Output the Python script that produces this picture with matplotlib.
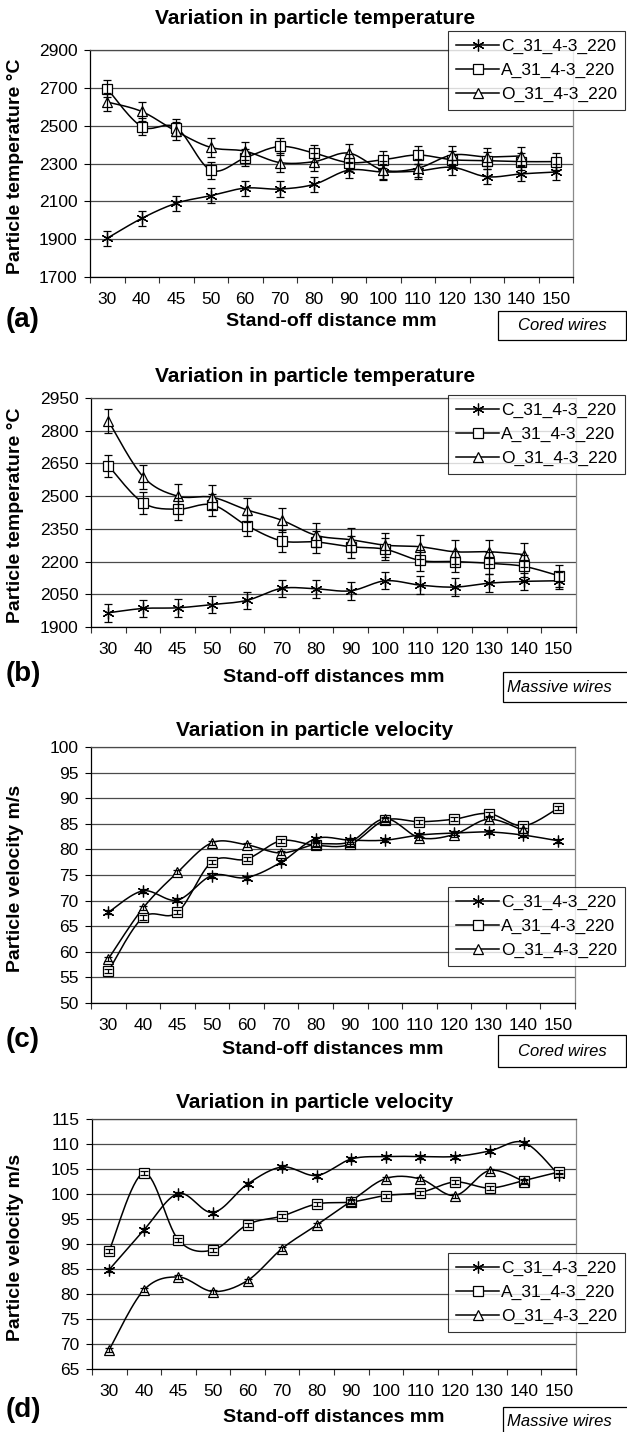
import numpy as np
import matplotlib
matplotlib.use("Agg")
import matplotlib.pyplot as plt
from matplotlib.patches import Rectangle
from matplotlib.lines import Line2D

plt.rcParams['font.family'] = ['Liberation Sans', 'DejaVu Sans']

# ---------------- data ----------------
categories = ['30', '40', '45', '50', '60', '70', '80', '90', '100', '110', '120', '130', '140', '150']
series_names = ['C_31_4-3_220', 'A_31_4-3_220', 'O_31_4-3_220']

# (a) particle temperature, cored wires
a_C = [1905, 2010, 2090, 2130, 2170, 2165, 2190, 2265, 2255, 2260, 2280, 2230, 2245, 2255]
a_A = [2695, 2495, 2490, 2265, 2330, 2390, 2355, 2305, 2320, 2345, 2320, 2315, 2310, 2310]
a_O = [2625, 2575, 2470, 2385, 2365, 2305, 2310, 2355, 2265, 2275, 2345, 2335, 2340]
a_err = [40, 45, 48]

# (b) particle temperature, massive wires
b_C = [1965, 1985, 1988, 2003, 2022, 2077, 2075, 2066, 2112, 2092, 2083, 2101, 2109, 2112]
b_A = [2640, 2470, 2440, 2460, 2365, 2295, 2290, 2268, 2256, 2205, 2200, 2192, 2178, 2135]
b_O = [2845, 2590, 2500, 2495, 2437, 2390, 2320, 2300, 2275, 2268, 2245, 2245, 2232]
b_err = [40, 50, 55]

# (c) particle velocity, cored wires
c_C = [67.7, 71.9, 70.1, 74.9, 74.5, 77.5, 82.1, 81.8, 81.8, 82.8, 83.2, 83.4, 82.8, 81.7]
c_A = [56.2, 66.7, 67.7, 77.6, 78.1, 81.7, 80.8, 81.0, 85.7, 85.4, 85.9, 87.0, 84.6, 88.0]
c_O = [58.6, 68.5, 75.5, 81.3, 80.9, 79.3, 81.0, 81.5, 86.0, 82.3, 82.9, 85.9, 83.7]
c_err = [0.4, 0.4, 0.4]

# (d) particle velocity, massive wires
d_C = [84.9, 92.8, 100.1, 96.3, 102.0, 105.4, 103.7, 107.0, 107.5, 107.5, 107.5, 108.6, 110.3, 103.8]
d_A = [88.7, 104.2, 90.8, 88.8, 93.9, 95.6, 98.0, 98.4, 99.7, 100.3, 102.4, 101.2, 102.7, 104.4]
d_O = [68.9, 80.8, 83.4, 80.5, 82.7, 89.1, 93.8, 98.6, 103.1, 103.0, 99.7, 104.7, 102.5]
d_err = [0.4, 0.4, 0.4]

titles = ['Variation in particle temperature', 'Variation in particle temperature',
          'Variation in particle velocity', 'Variation in particle velocity']
ylabels = ['Particle temperature °C', 'Particle temperature °C',
           'Particle velocity m/s', 'Particle velocity m/s']
xlabels = ['Stand-off distance mm', 'Stand-off distances mm',
           'Stand-off distances mm', 'Stand-off distances mm']
panel_tags = ['(a)', '(b)', '(c)', '(d)']
wire_notes = ['Cored wires', 'Massive wires', 'Cored wires', 'Massive wires']
y_ranges = [(1700, 2900, 200), (1900, 2950, 150), (50, 100, 5), (65, 115, 5)]

# ---------------- layout (pixels) ----------------
W, H = 627, 1432
fig = plt.figure(figsize=(W / 100, H / 100), dpi=100)

def fx(px):
    return px / W

def fy(py):
    return 1 - py / H

axes_px = [(90, 573, 50, 277), (91, 576, 398, 627), (91, 575, 747, 1003), (92, 576, 1119, 1369)]
title_y = [18, 377, 730, 1102]
xlabel_y = [322, 678, 1050, 1418]
tag_y = [320, 674, 1040, 1410]
legend_top = [31, 395, 887, 1253]
note_box = [(498, 311, 128, 29), (503, 672, 126, 30), (498, 1035, 128, 32), (503, 1407, 126, 30)]
note_align = ['center', 'left', 'center', 'left']

markers = [(6, 2, 0), 's', '^']


def smooth(xs, ys, n=16):
    """Excel-like smoothed line (Bezier with tension 1/6)."""
    xs = np.asarray(xs, float)
    ys = np.asarray(ys, float)
    P = np.column_stack([xs, ys])
    out = [P[0]]
    m = len(P)
    for i in range(m - 1):
        p0 = P[i - 1] if i > 0 else P[i]
        p1 = P[i]
        p2 = P[i + 1]
        p3 = P[i + 2] if i + 2 < m else P[i + 1]
        c1 = p1 + (p2 - p0) / 6.0
        c2 = p2 - (p3 - p1) / 6.0
        t = np.linspace(0, 1, n)[1:, None]
        seg = ((1 - t) ** 3) * p1 + 3 * ((1 - t) ** 2) * t * c1 + 3 * (1 - t) * t ** 2 * c2 + t ** 3 * p2
        out.extend(seg)
    out = np.array(out)
    return out[:, 0], out[:, 1]


panels = [(a_C, a_A, a_O, a_err), (b_C, b_A, b_O, b_err),
          (c_C, c_A, c_O, c_err), (d_C, d_A, d_O, d_err)]

for k, (sC, sA, sO, errs) in enumerate(panels):
    l, r, t, b = axes_px[k]
    ax = fig.add_axes([fx(l), fy(b), fx(r - l), (b - t) / H])
    lo, hi, step = y_ranges[k]
    ax.set_ylim(lo, hi)
    ax.set_xlim(-0.5, len(categories) - 0.5)
    ax.set_yticks(np.arange(lo, hi + step / 2, step))
    ax.yaxis.grid(True, color='#4a4a4a', linewidth=0.9)
    ax.set_axisbelow(True)
    ax.set_xticks(np.arange(len(categories)))
    ax.set_xticklabels(categories)
    ax.set_xticks(np.arange(-0.5, len(categories)), minor=True)
    ax.tick_params(axis='x', which='major', length=0, pad=11, labelsize=12.5)
    ax.tick_params(axis='x', which='minor', length=4, width=0.8, direction='out', color='#333333')
    ax.tick_params(axis='y', length=4, width=0.8, direction='out', labelsize=12.5, pad=5)
    for side in ['left', 'bottom']:
        ax.spines[side].set_color('black')
        ax.spines[side].set_linewidth(0.9)
    ax.spines['top'].set_color('#4a4a4a')
    ax.spines['top'].set_linewidth(0.9)
    ax.spines['right'].set_color('#8a8a8a')
    ax.spines['right'].set_linewidth(0.9)

    handles = []
    for j, ys in enumerate([sC, sA, sO]):
        xs = np.arange(len(ys))
        sx, sy = smooth(xs, ys)
        ax.plot(sx, sy, color='black', linewidth=1.1, zorder=3)
        ms = 8.5 if j == 0 else 7.5
        ax.plot(xs, ys, linestyle='none', marker=markers[j], markersize=ms,
                markerfacecolor='white', markeredgecolor='black', markeredgewidth=0.9, zorder=4)
        ax.errorbar(xs, ys, yerr=errs[j], fmt='none', ecolor='black', elinewidth=0.9,
                    capsize=3.2, capthick=0.9, zorder=5)
        handles.append(Line2D([0], [0], color='black', linewidth=1.1, marker=markers[j],
                              markersize=ms, markerfacecolor='white', markeredgecolor='black',
                              markeredgewidth=0.9))

    leg = ax.legend(handles, series_names, loc='upper right',
                    bbox_to_anchor=(fx(625), fy(legend_top[k])), bbox_transform=fig.transFigure,
                    borderaxespad=0, frameon=True, fancybox=False, fontsize=12.5,
                    handlelength=2.5, handletextpad=0.1, labelspacing=0.5, borderpad=0.45,
                    markerscale=1.0)
    leg.get_frame().set_edgecolor('black')
    leg.get_frame().set_linewidth(0.8)
    leg.get_frame().set_facecolor('white')
    leg.set_zorder(10)

    fig.text(fx(315), fy(title_y[k]), titles[k], ha='center', va='center',
             fontsize=15, fontweight='bold')
    fig.text(fx(16), fy((t + b) / 2 + 3), ylabels[k], ha='center', va='center',
             rotation=90, fontsize=14, fontweight='bold')
    fig.text(fx((l + r) / 2), fy(xlabel_y[k]), xlabels[k], ha='center', va='center',
             fontsize=14, fontweight='bold')
    fig.text(fx(23), fy(tag_y[k]), panel_tags[k], ha='center', va='center',
             fontsize=20, fontweight='bold')

    bx, by, bw, bh = note_box[k]
    fig.add_artist(Rectangle((fx(bx), fy(by + bh)), bw / W, bh / H, transform=fig.transFigure,
                             facecolor='white', edgecolor='black', linewidth=0.9))
    if note_align[k] == 'center':
        fig.text(fx(bx + bw / 2), fy(by + bh / 2), wire_notes[k], ha='center', va='center',
                 fontsize=12, style='italic')
    else:
        fig.text(fx(bx + 4), fy(by + bh / 2), wire_notes[k], ha='left', va='center',
                 fontsize=12, style='italic')

fig.savefig('out.png', dpi=100)
